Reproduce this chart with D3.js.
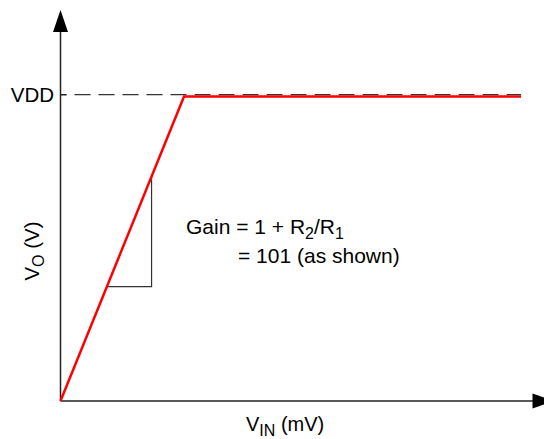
<!DOCTYPE html>
<html lang="en">
<head>
  <meta charset="UTF-8">
  <title>Gain transfer</title>
  <script src="https://cdn.jsdelivr.net/npm/d3@7/dist/d3.min.js"></script>
  <style>
    body { margin: 0; background: #fff; }
    text { font-family: "Liberation Sans", Arial, sans-serif; fill: #000; }
  </style>
</head>
<body>
  <svg width="544" height="439" id="main"></svg>
<script>
  // data: transfer curve VIN (mV) -> VO (V)
  const vdd = 5;
  const gain = 101;
  const vinPoints = [0, vdd / gain * 1000, 184.6];
  const voutPoints = [0, vdd, vdd];
  const slopeMarker = [18.6, 36.5]; // mV, the little gain triangle
  const xMax = 198;   // axis arrow tip (mV)
  const yMax = 6.42;  // axis arrow tip (V)

  const svg = d3.select('#main');
  const x = d3.scaleLinear().domain([0, xMax]).range([60.5, 554.5]);
  const y = d3.scaleLinear().domain([0, vdd]).range([401, 96.5]);
  const axisColor = '#222';

  // VDD dashed reference
  svg.append('line')
    .attr('x1', x(0)).attr('x2', x(vinPoints[2]))
    .attr('y1', y(vdd) - 1.8).attr('y2', y(vdd) - 1.8)
    .attr('stroke', '#333').attr('stroke-width', 1.3)
    .attr('stroke-dasharray', '16,8')
    .attr('stroke-dashoffset', -14);
  // VDD tick
  svg.append('line')
    .attr('x1', x(0)).attr('x2', x(0) + 6)
    .attr('y1', y(vdd) - 1.8).attr('y2', y(vdd) - 1.8)
    .attr('stroke', axisColor).attr('stroke-width', 1.3);

  svg.append('text')
    .attr('x', 54).attr('y', y(vdd) + 5.5)
    .attr('text-anchor', 'end')
    .attr('font-size', 20.5)
    .text('VDD');

  // axes
  const arrowLen = 22, arrowHalf = 7.5;
  svg.append('line')
    .attr('x1', x(0)).attr('y1', y(0))
    .attr('x2', x(0)).attr('y2', y(yMax) + arrowLen - 1)
    .attr('stroke', axisColor).attr('stroke-width', 1.5);
  svg.append('path')
    .attr('d', `M${x(0)},${y(yMax)} L${x(0) - arrowHalf},${y(yMax) + arrowLen} L${x(0) + arrowHalf},${y(yMax) + arrowLen}Z`)
    .attr('fill', '#000');
  svg.append('line')
    .attr('x1', x(0)).attr('y1', y(0))
    .attr('x2', x(xMax) - arrowLen + 1).attr('y2', y(0))
    .attr('stroke', axisColor).attr('stroke-width', 1.5);
  svg.append('path')
    .attr('d', `M${x(xMax)},${y(0)} L${x(xMax) - arrowLen},${y(0) - arrowHalf} L${x(xMax) - arrowLen},${y(0) + arrowHalf}Z`)
    .attr('fill', '#000');

  // gain triangle
  const vo = v => v * gain / 1000;
  svg.append('path')
    .attr('d', `M${x(slopeMarker[0])},${y(vo(slopeMarker[0]))} H${x(slopeMarker[1])} V${y(vo(slopeMarker[1]))}`)
    .attr('fill', 'none')
    .attr('stroke', '#333').attr('stroke-width', 1.2);

  // transfer curve
  const line = d3.line().x(d => x(d[0])).y(d => y(d[1]));
  svg.append('path')
    .datum(d3.zip(vinPoints, voutPoints))
    .attr('d', line)
    .attr('fill', 'none')
    .attr('stroke', '#ff0000')
    .attr('stroke-width', 2.5)
    .attr('stroke-linejoin', 'miter');

  // gain text
  const fs = 21, sub = 16;
  const t1 = svg.append('text').attr('x', 186).attr('y', 234).attr('font-size', fs);
  t1.append('tspan').text('Gain = 1 + R');
  t1.append('tspan').attr('dy', 5).attr('font-size', sub).text('2');
  t1.append('tspan').attr('dy', -5).text('/R');
  t1.append('tspan').attr('dy', 5).attr('font-size', sub).text('1');
  svg.append('text').attr('x', 238).attr('y', 263).attr('font-size', fs)
    .text('= 101 (as shown)');

  // axis labels
  const xl = svg.append('text').attr('x', 246).attr('y', 431).attr('font-size', 20);
  xl.append('tspan').text('V');
  xl.append('tspan').attr('dy', 5).attr('font-size', sub).text('IN');
  xl.append('tspan').attr('dy', -5).text(' (mV)');

  const yl = svg.append('text')
    .attr('transform', 'translate(39,251) rotate(-90)')
    .attr('text-anchor', 'middle')
    .attr('font-size', 20.5);
  yl.append('tspan').text('V');
  yl.append('tspan').attr('dy', 5).attr('font-size', sub).text('O');
  yl.append('tspan').attr('dy', -5).text(' (V)');
</script>
</body>
</html>
